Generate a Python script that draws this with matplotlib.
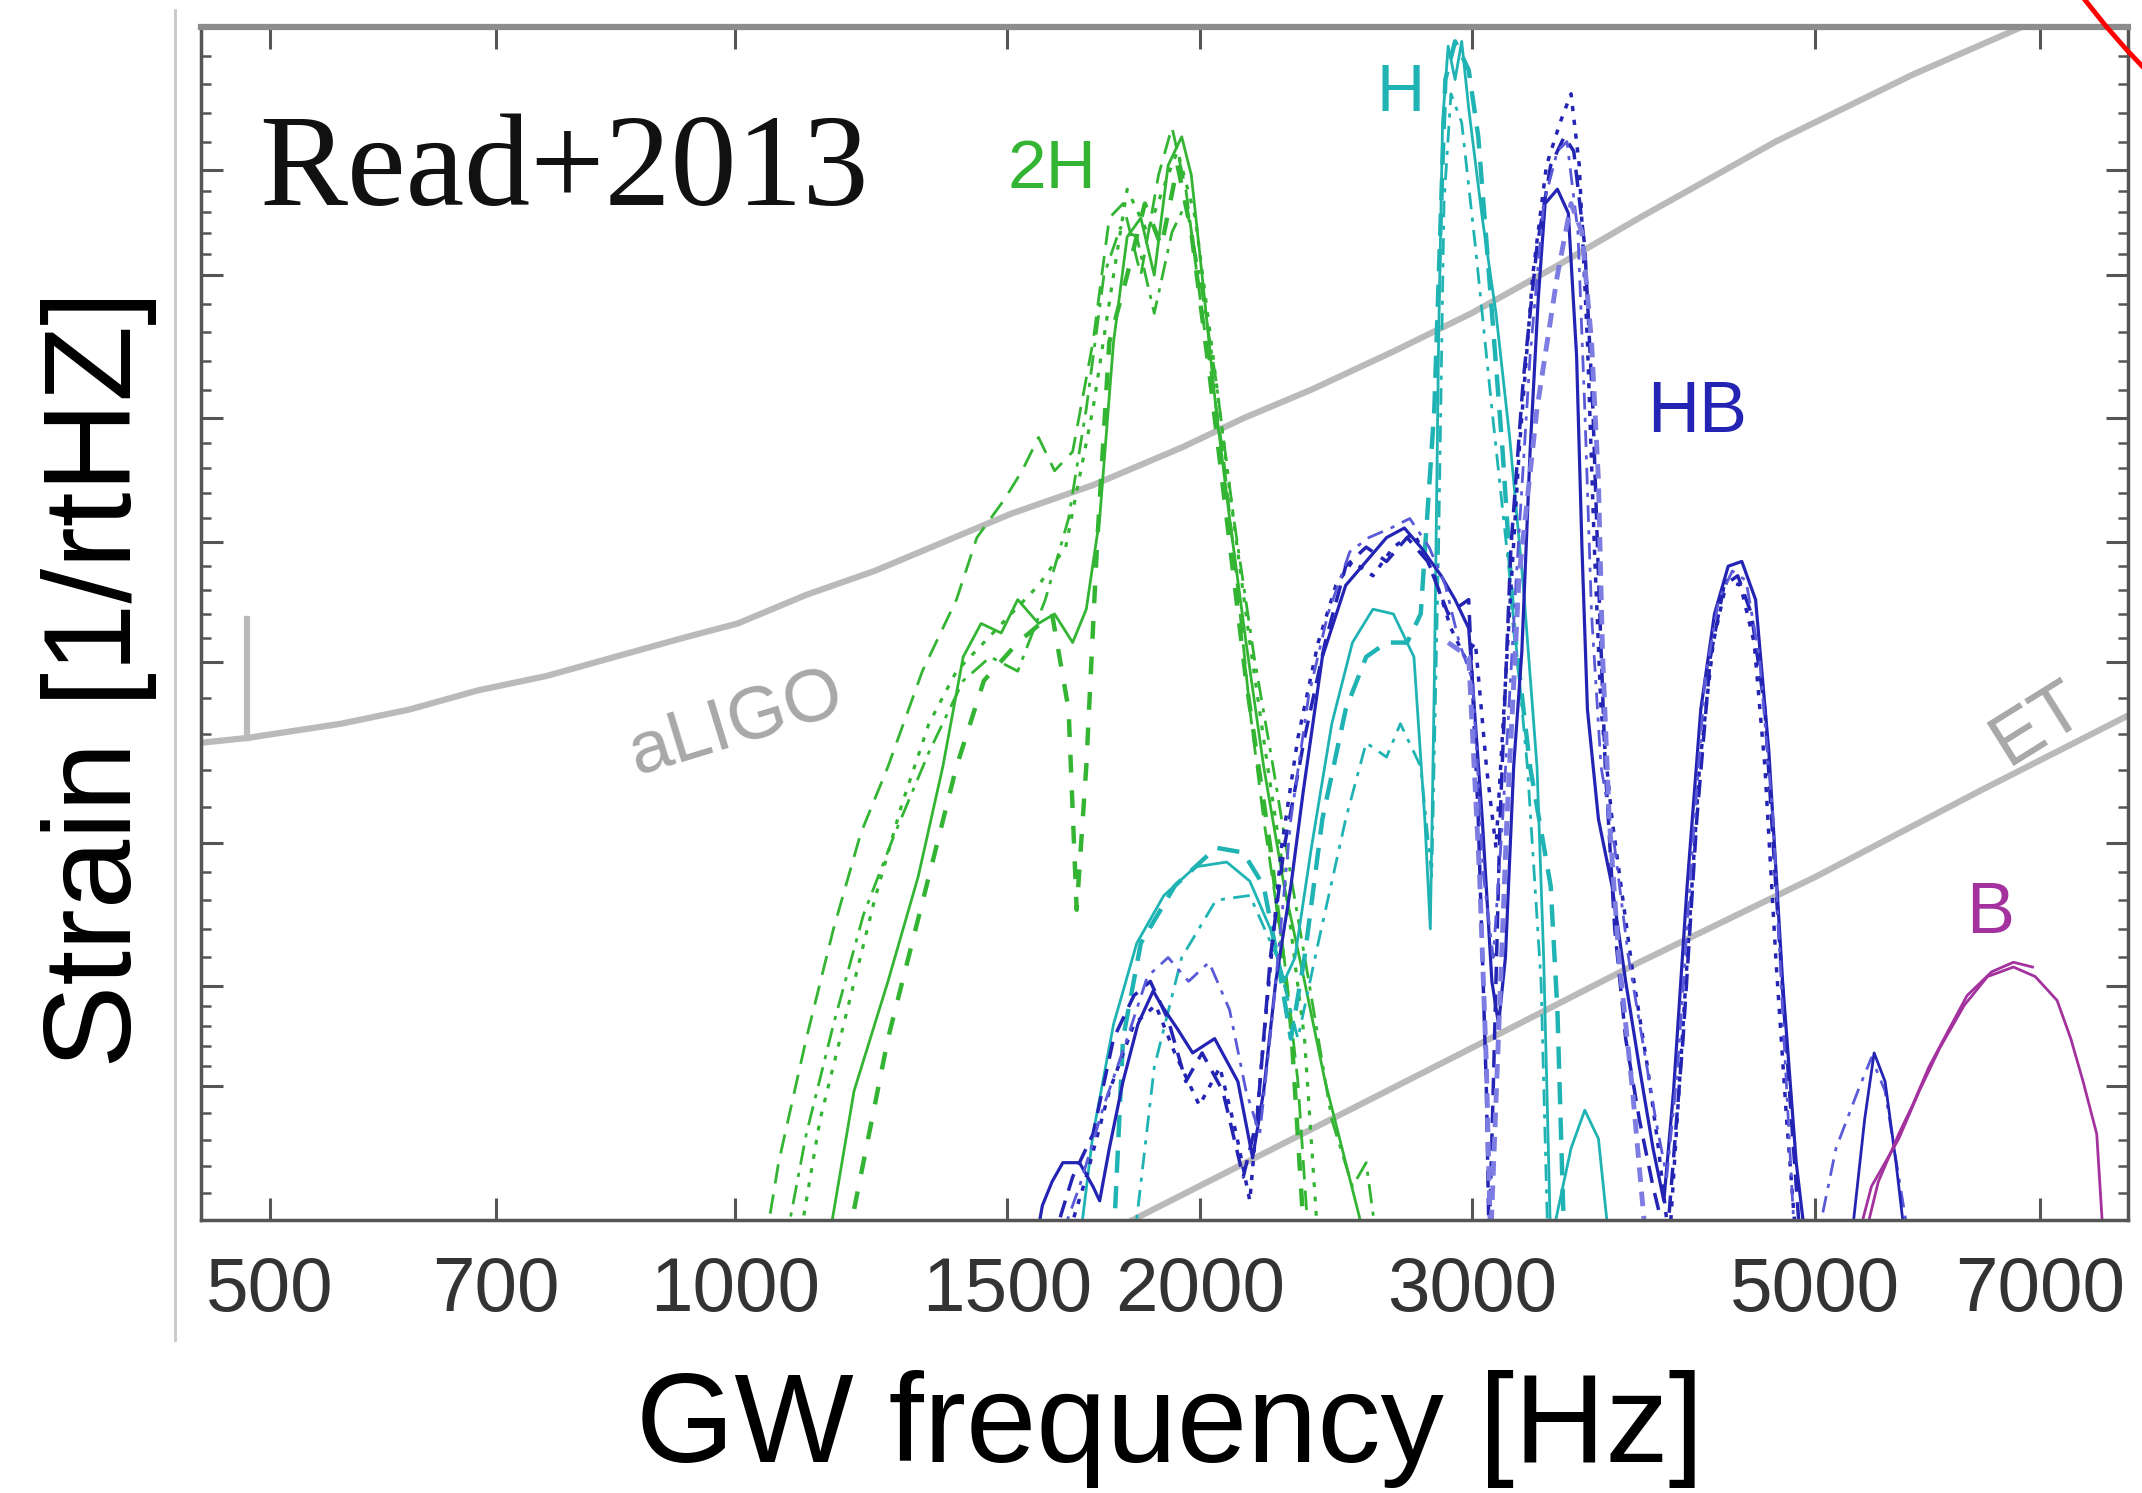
import numpy as np
import matplotlib.pyplot as plt
from matplotlib.lines import Line2D

# x = GW frequency [Hz], y = log10 strain (axis has no y labels)
xtick_vals = [500, 700, 1000, 1500, 2000, 3000, 5000, 7000]
xtick_labels = ['500', '700', '1000', '1500', '2000', '3000', '5000', '7000']
ytick_major = [-20.80, -21.02, -21.32, -21.58, -21.83, -22.21, -22.51, -22.72]

# detector curves
aligo_f = [451, 483, 556, 616, 682, 755, 836, 926, 1004, 1112, 1231, 1363, 1509, 1705, 1950, 2133,
           2361, 2668, 2997, 3407, 3850, 4263, 4718, 5224, 5784, 6274, 6807, 7089]
aligo_h = [-22.00, -21.99, -21.96, -21.93, -21.89, -21.86, -21.82, -21.78, -21.75, -21.69, -21.64,
           -21.58, -21.52, -21.46, -21.38, -21.32, -21.26, -21.18, -21.10, -21.00, -20.90, -20.82,
           -20.74, -20.67, -20.60, -20.55, -20.50, -20.47]
spike_f = [483, 483]
spike_h = [-21.99, -21.74]
et_f = [1809, 2361, 2997, 3850, 5013, 6403, 8009]
et_h = [-23.00, -22.81, -22.64, -22.46, -22.28, -22.10, -21.94]

# 2H (green)
g1_f = [1149, 1194, 1256, 1314, 1363, 1405, 1443, 1487, 1524, 1572, 1610, 1654, 1688, 1722, 1758,
        1794, 1831, 1868, 1907, 1946, 1974, 2006, 2048, 2090, 2142, 2199, 2267, 2337, 2410, 2485, 2562]
g1_h = [-23.05, -22.73, -22.50, -22.28, -22.05, -21.82, -21.75, -21.77, -21.70, -21.75, -21.73,
        -21.79, -21.72, -21.53, -21.16, -20.94, -20.90, -21.02, -20.79, -20.73, -20.81, -21.02,
        -21.30, -21.53, -21.79, -22.05, -22.30, -22.50, -22.71, -22.88, -23.05]
g2_f = [1046, 1067, 1112, 1158, 1206, 1256, 1322, 1391, 1434, 1494, 1534, 1572, 1610, 1654, 1705,
        1747, 1783, 1831, 1880, 1918, 1958, 2006, 2069, 2111, 2154, 2199, 2267, 2314, 2352]
g2_h = [-23.05, -22.88, -22.62, -22.39, -22.19, -22.05, -21.85, -21.70, -21.57, -21.49, -21.43,
        -21.36, -21.43, -21.39, -21.16, -20.90, -20.87, -21.02, -20.81, -20.71, -20.84, -21.10,
        -21.39, -21.65, -21.93, -22.16, -22.45, -22.71, -23.05]
g3_f = [1100, 1135, 1182, 1231, 1282, 1335, 1391, 1449, 1509, 1572, 1637, 1705, 1758, 1794, 1849,
        1907, 1934, 1986, 2039, 2090, 2154, 2212, 2267, 2337, 2385]
g3_h = [-23.05, -22.79, -22.56, -22.33, -22.13, -21.96, -21.85, -21.79, -21.73, -21.67, -21.59,
        -21.30, -21.02, -20.84, -20.93, -20.81, -20.76, -20.90, -21.19, -21.47, -21.79, -22.05,
        -22.28, -22.62, -23.05]
g4_f = [1078, 1112, 1158, 1211, 1269, 1335, 1405, 1463, 1524, 1588, 1644, 1688, 1733, 1776, 1820,
        1868, 1918, 1958, 1998, 2048, 2103, 2168, 2230, 2290, 2352, 2434, 2510, 2562, 2604]
g4_h = [-23.05, -22.82, -22.59, -22.36, -22.19, -22.02, -21.87, -21.82, -21.85, -21.70, -21.53,
        -21.30, -21.02, -20.92, -20.94, -21.10, -20.93, -20.87, -21.02, -21.24, -21.53, -21.82,
        -22.05, -22.28, -22.50, -22.79, -22.93, -22.88, -23.05]
g5_f = [1182, 1256, 1335, 1391, 1449, 1524, 1604, 1644, 1664, 1688, 1715, 1747, 1794, 1842, 1888,
        1934, 1974, 2027, 2081, 2142, 2221, 2290, 2337]
g5_h = [-23.05, -22.62, -22.28, -22.05, -21.87, -21.79, -21.73, -21.93, -22.35, -22.05, -21.59,
        -21.16, -21.02, -20.87, -20.96, -20.79, -20.93, -21.22, -21.53, -21.87, -22.22, -22.59, -23.05]

# H (cyan)
c1_f = [1671, 1705, 1758, 1820, 1895, 1986, 2081, 2154, 2221, 2267, 2304, 2361, 2434, 2510, 2588,
        2668, 2751, 2796, 2819, 2836, 2854, 2871, 2895, 2925, 2954, 2985, 3046, 3109, 3173, 3238,
        3305, 3338, 3373, 3477, 3549, 3622, 3681]
c1_h = [-23.05, -22.82, -22.59, -22.42, -22.32, -22.26, -22.25, -22.29, -22.39, -22.50, -22.45,
        -22.22, -21.96, -21.79, -21.72, -21.73, -21.82, -22.16, -22.39, -21.87, -21.16, -20.70,
        -20.54, -20.61, -20.53, -20.67, -20.90, -21.10, -21.36, -21.67, -22.05, -22.45, -23.05,
        -22.85, -22.77, -22.83, -23.05]
c2_f = [1758, 1783, 1831, 1926, 2048, 2133, 2199, 2244, 2290, 2337, 2400, 2485, 2562, 2641, 2723,
        2779, 2836, 2883, 2925, 2985, 3028, 3077, 3140, 3192, 3271, 3373, 3407, 3442]
c2_h = [-23.05, -22.62, -22.42, -22.30, -22.22, -22.23, -22.30, -22.45, -22.62, -22.45, -22.16,
        -21.93, -21.82, -21.79, -21.79, -21.73, -21.30, -20.61, -20.53, -20.59, -20.73, -21.02,
        -21.39, -21.75, -22.05, -22.30, -22.56, -23.05]
c3_f = [1812, 1868, 1946, 2048, 2154, 2244, 2314, 2385, 2485, 2562, 2641, 2696, 2779, 2825, 2854,
        2877, 2907, 2954, 3015, 3090, 3173, 3258, 3325, 3359]
c3_h = [-23.05, -22.68, -22.45, -22.33, -22.32, -22.45, -22.62, -22.42, -22.16, -22.00, -22.03,
        -21.96, -22.05, -22.28, -21.59, -20.87, -20.64, -20.70, -20.96, -21.30, -21.65, -22.05,
        -22.50, -23.05]

# HB (blue)
b1_f = [1565, 1581, 1604, 1630, 1671, 1705, 1722, 1747, 1783, 1823, 1865, 1888, 1934, 1978, 2044,
        2116, 2163, 2199, 2239, 2290, 2333, 2400, 2485, 2562, 2641, 2712, 2779, 2865, 2925, 2985,
        3046, 3090, 3121, 3153, 3192, 3231, 3271, 3311, 3345, 3407, 3463, 3506, 3534, 3563, 3622,
        3696, 3772, 3850, 3929, 3993, 4051, 4134, 4219, 4306, 4395, 4485, 4578, 4670, 4766, 4864, 4934]
b1_h = [-23.05, -22.97, -22.92, -22.88, -22.88, -22.93, -22.96, -22.85, -22.71, -22.59, -22.52,
        -22.55, -22.60, -22.65, -22.62, -22.71, -22.87, -22.73, -22.50, -22.30, -22.10, -21.82,
        -21.67, -21.62, -21.57, -21.55, -21.59, -21.65, -21.70, -21.76, -22.16, -22.50, -22.59,
        -22.45, -22.05, -21.81, -21.39, -21.07, -20.87, -20.84, -20.89, -21.19, -21.59, -21.93,
        -22.16, -22.30, -22.50, -22.68, -22.85, -22.96, -22.73, -22.30, -21.93, -21.73, -21.63,
        -21.62, -21.70, -22.02, -22.50, -22.88, -23.05]
b2_f = [1604, 1654, 1705, 1758, 1812, 1857, 1907, 1958, 2006, 2069, 2133, 2177, 2221, 2267, 2337,
        2410, 2485, 2562, 2641, 2723, 2808, 2895, 2985, 3028, 3065, 3077, 3096, 3128, 3179, 3238,
        3305, 3373, 3442, 3491, 3549, 3592, 3622, 3659, 3711, 3772, 3850, 3929, 4010, 4109, 4194,
        4280, 4368, 4458, 4550, 4642, 4718, 4815, 4894]
b2_h = [-23.05, -22.91, -22.82, -22.62, -22.53, -22.50, -22.58, -22.71, -22.65, -22.73, -22.91,
        -22.79, -22.45, -22.22, -21.99, -21.79, -21.63, -21.59, -21.62, -21.57, -21.62, -21.73,
        -21.70, -22.16, -22.73, -23.05, -22.73, -22.16, -21.59, -21.24, -20.96, -20.79, -20.73,
        -20.76, -20.96, -21.30, -21.65, -22.05, -22.39, -22.62, -22.79, -22.93, -23.05, -22.62,
        -22.16, -21.82, -21.67, -21.65, -21.73, -21.93, -22.30, -22.73, -23.05]
b3_f = [1637, 1688, 1747, 1812, 1872, 1926, 1998, 2060, 2111, 2154, 2199, 2258, 2314, 2385, 2449,
        2510, 2588, 2668, 2751, 2836, 2907, 2967, 3015, 3065, 3109, 3160, 3218, 3284, 3352, 3421,
        3477, 3520, 3563, 3600, 3636, 3696, 3757, 3819, 3897, 3961, 4026, 4126, 4211, 4298, 4386,
        4476, 4568, 4642, 4718, 4795, 4864]
b3_h = [-23.05, -22.91, -22.73, -22.59, -22.55, -22.65, -22.76, -22.68, -22.82, -22.96, -22.62,
        -22.22, -21.99, -21.79, -21.67, -21.62, -21.65, -21.59, -21.56, -21.65, -21.76, -21.82,
        -21.79, -22.05, -22.22, -21.82, -21.39, -21.02, -20.79, -20.70, -20.64, -20.79, -21.16,
        -21.59, -21.93, -22.16, -22.33, -22.50, -22.68, -22.85, -23.05, -22.50, -22.05, -21.79,
        -21.66, -21.67, -21.79, -22.05, -22.45, -22.79, -23.05]
b4_f = [1620, 1671, 1733, 1794, 1849, 1907, 1966, 2027, 2090, 2142, 2186, 2230, 2290, 2352, 2420,
        2500, 2572, 2658, 2734, 2814, 2883, 2943, 3003, 3052, 3096, 3140, 3205, 3271, 3338, 3407,
        3456, 3513, 3549, 3585, 3636, 3711, 3788, 3866, 3945, 4010, 4076, 4160, 4245, 4333, 4422,
        4513, 4604, 4699, 4776, 4854, 5013, 5161, 5332, 5441, 5553, 5667, 5760]
b4_h = [-23.05, -22.93, -22.76, -22.62, -22.49, -22.45, -22.50, -22.46, -22.56, -22.73, -22.82,
        -22.56, -22.16, -21.90, -21.73, -21.60, -21.57, -21.55, -21.53, -21.59, -21.67, -21.79,
        -21.87, -22.28, -22.45, -22.16, -21.65, -21.19, -20.87, -20.76, -20.74, -20.93, -21.30,
        -21.73, -22.05, -22.22, -22.45, -22.62, -22.79, -22.91, -22.68, -22.25, -21.87, -21.70,
        -21.64, -21.66, -21.82, -22.16, -22.62, -23.05, -23.05, -22.85, -22.73, -22.66, -22.73,
        -22.91, -23.05]
b5_f = [2895, 2985, 3034, 3065, 3084, 3115, 3160, 3218, 3305, 3407, 3477, 3534, 3585, 3622, 3644,
        3681, 3734, 3811, 3889]
b5_h = [-21.79, -21.82, -22.28, -22.68, -23.05, -22.68, -22.16, -21.65, -21.30, -21.02, -20.87,
        -20.93, -21.16, -21.45, -21.81, -22.16, -22.45, -22.73, -23.05]
b6_f = [5278, 5386, 5463, 5553, 5644, 5725]
b6_h = [-23.05, -22.79, -22.65, -22.71, -22.88, -23.05]

# B (purple)
p1_f = [5321, 5441, 5553, 5667, 5843, 6024, 6249, 6469, 6724, 6946, 7176, 7324, 7460, 7613, 7691]
p1_h = [-23.05, -22.93, -22.88, -22.83, -22.73, -22.64, -22.55, -22.49, -22.47, -22.49, -22.54,
        -22.62, -22.71, -22.82, -23.05]
p2_f = [5375, 5497, 5667, 5784, 5927, 6086, 6274, 6509, 6724, 6918]
p2_h = [-23.05, -22.92, -22.82, -22.76, -22.68, -22.61, -22.53, -22.48, -22.46, -22.47]

green = '#33b533'
cyan = '#1fb3b3'
blue = '#2424b4'
lblue = '#5a5ad8'
purple = '#a3329e'
gray = '#bababa'

plt.rcParams['font.family'] = 'Liberation Sans'

fig = plt.figure(figsize=(21.42, 14.93), dpi=100)
ax = fig.add_axes([0.0938, 0.1829, 0.8997, 0.7990])
ax.set_xscale('log')

ax.plot(aligo_f, aligo_h, color=gray, lw=4.5, solid_capstyle='round', solid_joinstyle='round')
ax.plot(spike_f, spike_h, color=gray, lw=4.5)
ax.plot(et_f, et_h, color=gray, lw=4.5)

lw = 2.0
ax.plot(g1_f, g1_h, color=green, lw=lw, ls='-')
ax.plot(g2_f, g2_h, color=green, lw=lw, ls=(0, (7, 4)))
ax.plot(g3_f, g3_h, color=green, lw=lw + 0.3, ls=(0, (1.5, 3)))
ax.plot(g4_f, g4_h, color=green, lw=lw, ls=(0, (7, 3, 1.5, 3)))
ax.plot(g5_f, g5_h, color=green, lw=lw + 1.2, ls=(0, (4, 4)))

ax.plot(c1_f, c1_h, color=cyan, lw=lw, ls='-')
ax.plot(c2_f, c2_h, color=cyan, lw=lw + 1.2, ls=(0, (5, 3)))
ax.plot(c3_f, c3_h, color=cyan, lw=lw, ls=(0, (6, 3, 1.5, 3)))

ax.plot(b1_f, b1_h, color=blue, lw=lw + 0.3, ls='-')
ax.plot(b2_f, b2_h, color=blue, lw=lw + 0.5, ls=(0, (5, 3)))
ax.plot(b3_f, b3_h, color=blue, lw=lw + 0.5, ls=(0, (1.5, 2.5)))
ax.plot(b4_f, b4_h, color=lblue, lw=lw, ls=(0, (6, 3, 1.5, 3)))
ax.plot(b5_f, b5_h, color='#7c7ce2', lw=3.5, ls=(0, (3, 2)))
ax.plot(b6_f, b6_h, color=blue, lw=lw, ls='-')

ax.plot(p1_f, p1_h, color=purple, lw=lw, ls='-')
ax.plot(p2_f, p2_h, color=purple, lw=lw, ls='-')

# curve labels
ax.text(1604, -20.80, '2H', color=green, fontsize=50, ha='center', va='center')
ax.text(2696, -20.64, 'H', color=cyan, fontsize=48, ha='center', va='center')
ax.text(4194, -21.31, 'HB', color=blue, fontsize=52, ha='center', va='center')
ax.text(6495, -22.36, 'B', color=purple, fontsize=52, ha='center', va='center')
ax.text(1002, -21.96, 'aLIGO', color='#a8a8a8', fontsize=54, ha='center', va='center', rotation=17)
ax.text(6976, -21.96, 'ET', color='#a8a8a8', fontsize=54, ha='center', va='center', rotation=32)
ax.text(0.030, 0.851, 'Read+2013', transform=ax.transAxes, fontsize=95,
        family='Liberation Serif', color='#111111', ha='left', va='baseline')

ax.set_xlim(451, 7977)
ax.set_ylim(-23.0, -20.5)

ax.set_xticks(xtick_vals)
ax.set_xticklabels(xtick_labels)
ax.xaxis.set_minor_locator(plt.NullLocator())
ax.set_yticks(ytick_major)
ax.set_yticklabels([])
minor = []
edges = [-20.5] + ytick_major + [-23.0]
for a, b in zip(edges[:-1], edges[1:]):
    minor.extend(np.linspace(a, b, 6)[1:-1])
ax.set_yticks(minor, minor=True)

ax.tick_params(axis='both', which='major', direction='in', length=16, width=2.2,
               color='#555555', top=True, right=True)
ax.tick_params(axis='y', which='minor', direction='in', length=7, width=1.8,
               color='#555555', left=True, right=True)
ax.tick_params(axis='x', labelsize=55, labelcolor='#333333', pad=26)

for s in ax.spines.values():
    s.set_color('#555555')
    s.set_linewidth(2.5)
ax.spines['top'].set_color('#8c8c8c')
ax.spines['top'].set_linewidth(4.5)

ax.set_xlabel('GW frequency [Hz]', fontsize=91)
ax.xaxis.set_label_coords(0.503, -0.203)
ax.xaxis.label.set_va('baseline')
ax.set_ylabel('Strain [1/rtHZ]', fontsize=90)
ax.yaxis.set_label_coords(-0.053, 0.453)
ax.yaxis.label.set_va('center')

# page artefacts around the panel
fig.add_artist(Line2D([0.0817, 0.0817], [0.1025, 0.9933], color='#c8c8c8', lw=2))
fig.add_artist(Line2D([0.9734, 0.9827, 0.9921, 1.0], [1.0, 0.9833, 0.9678, 0.9558],
                      color='red', lw=3.5))

fig.savefig('out.png', dpi=100)
